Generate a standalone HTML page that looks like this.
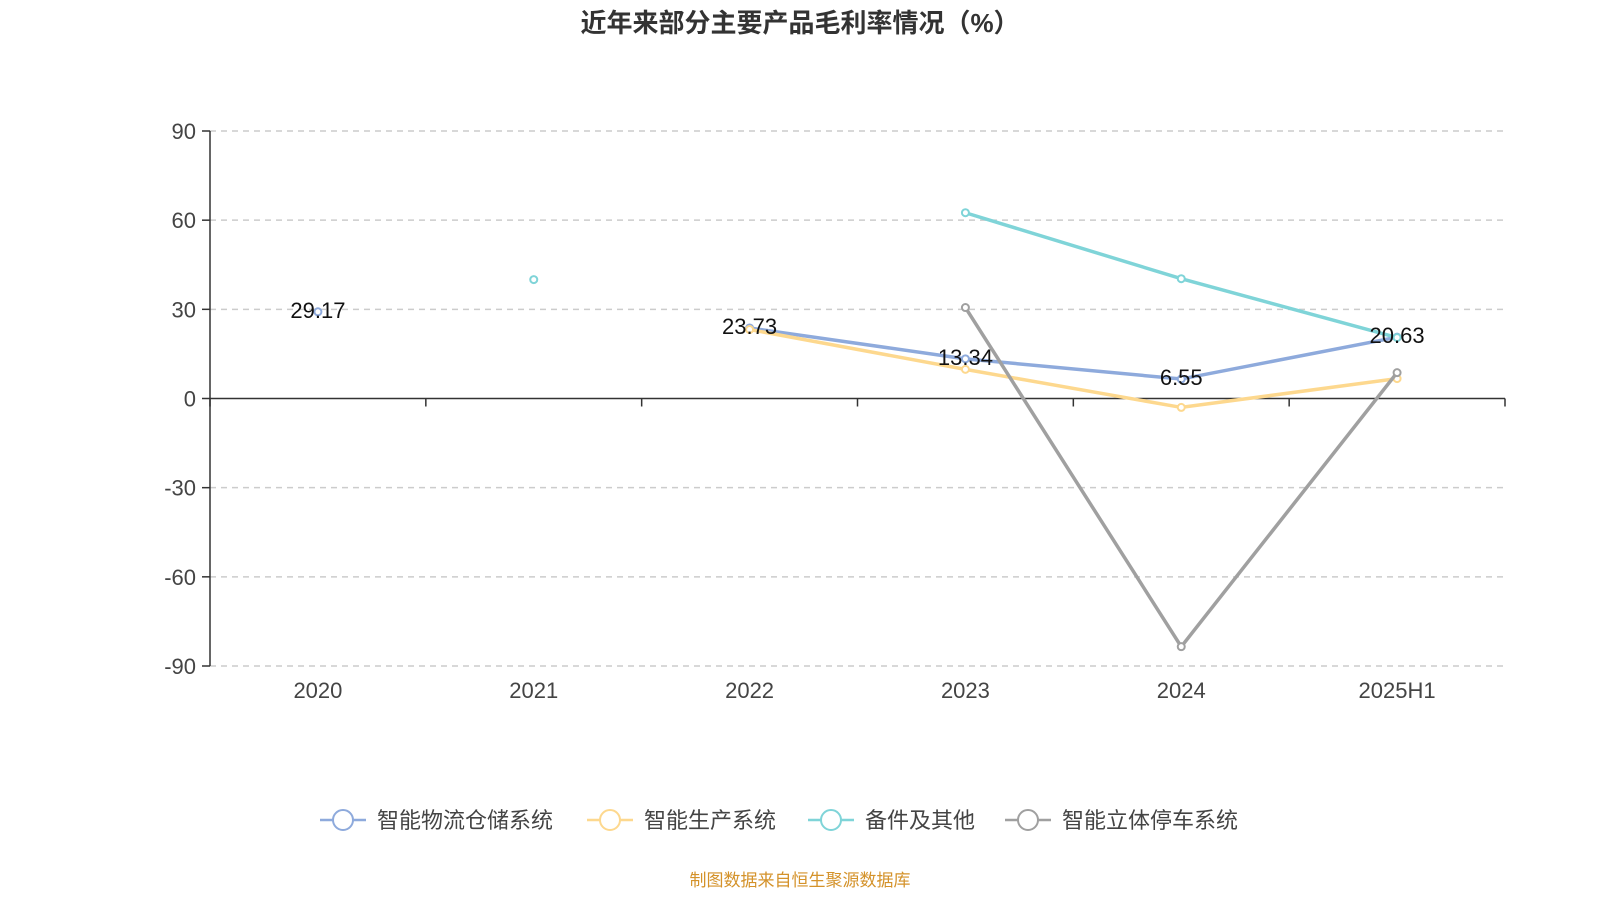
<!DOCTYPE html>
<html><head><meta charset="utf-8"><style>
body{margin:0;background:#fff;}
svg{display:block;font-family:"Liberation Sans","Noto Sans CJK SC",sans-serif;}
</style></head><body>
<svg id="c" width="1600" height="900">
<text x="800" y="32" text-anchor="middle" font-size="26" font-weight="bold" fill="#333">近年来部分主要产品毛利率情况（%）</text>
<g id="grid"></g>
<g id="marks"></g>
<g id="legend"></g>
<text x="800" y="886" text-anchor="middle" font-size="17" fill="#d4922a">制图数据来自恒生聚源数据库</text>
</svg>
<script>
const categories=["2020","2021","2022","2023","2024","2025H1"];
const yTicks=[90,60,30,0,-30,-60,-90];
const seriesNames=["智能物流仓储系统","智能生产系统","备件及其他","智能立体停车系统"];
const logisticsValues=[29.17,null,23.73,13.34,6.55,20.63];
const productionValues=[null,null,23.2,9.8,-3,6.7];
const sparesValues=[null,40,null,62.5,40.3,20.5];
const parkingValues=[null,null,null,30.6,-83.5,8.7];
const labeledSeries=[true,false,false,false];
const colors=["#8eaadc","#fdd88e","#7fd4d8","#a0a0a0"];
const NS="http://www.w3.org/2000/svg";
const x0=210,x1=1505,y0=131,y1=666;
const band=(x1-x0)/categories.length;
const X=i=>x0+band*(i+0.5);
const Y=v=>y0+(90-v)/180*(y1-y0);
function mk(tag,attrs,parent){const e=document.createElementNS(NS,tag);for(const k in attrs)e.setAttribute(k,attrs[k]);parent.appendChild(e);return e;}
const grid=document.getElementById('grid');
yTicks.forEach(t=>{
  const y=Y(t);
  if(t!==0){const l=mk('line',{x1:x0,x2:x1,y1:y,y2:y,stroke:'#ccc','stroke-dasharray':'6,5','stroke-width':1.5},grid);
  
  }
  const tk=mk('line',{x1:x0-8,x2:x0,y1:y,y2:y,stroke:'#333','stroke-width':1.5},grid);
  
  
  const tx=mk('text',{x:x0-14,y:y+8,'text-anchor':'end','font-size':22,fill:'#444'},grid);
  tx.textContent=t;
  
  
});
const ya=mk('line',{x1:x0,x2:x0,y1:y0,y2:y1,stroke:'#333','stroke-width':1.5},grid);


const xa=mk('line',{x1:x0,x2:x1,y1:Y(0),y2:Y(0),stroke:'#333','stroke-width':1.5},grid);


for(let i=0;i<=categories.length;i++){
  const t=mk('line',{x1:x0+band*i,x2:x0+band*i,y1:Y(0),y2:Y(0)+8,stroke:'#333','stroke-width':1.5},grid);
  
  
}
categories.forEach((c,i)=>{
  const t=mk('text',{x:X(i),y:698,'text-anchor':'middle','font-size':22,fill:'#444'},grid);
  t.textContent=c;
  
  
});
const marks=document.getElementById('marks');
const allSeries=[logisticsValues,productionValues,sparesValues,parkingValues];
const labels=[];
allSeries.forEach((vals,s)=>{
  let seg=[];
  const segs=[];
  vals.forEach((v,i)=>{if(v===null){if(seg.length)segs.push(seg);seg=[];}else seg.push([X(i),Y(v)]);});
  if(seg.length)segs.push(seg);
  segs.forEach(sg=>{if(sg.length>1){
    const p=mk('polyline',{points:sg.map(q=>q.join(',')).join(' '),fill:'none',stroke:colors[s],'stroke-width':3.5},marks);
    
    }});
  vals.forEach((v,i)=>{if(v===null)return;
    const c=mk('circle',{cx:X(i),cy:Y(v),r:3.5,fill:'#fff',stroke:colors[s],'stroke-width':2},marks);
    
    
    if(labeledSeries[s])labels.push([X(i),Y(v),v]);
  });
});
labels.forEach(([x,y,v])=>{
  const t=mk('text',{x:x,y:y+6,'text-anchor':'middle','font-size':22,fill:'#111'},marks);
  t.textContent=v.toFixed(2).replace(/\.?0+$/,m=>m.startsWith('.')&&m.length>1?'':m);
  t.textContent=String(v);
  
  
});
const legend=document.getElementById('legend');
const lx=[320,587,808,1005];
seriesNames.forEach((n,s)=>{
  const g=mk('g',{},legend);
  
  
  mk('line',{x1:lx[s],x2:lx[s]+46,y1:820,y2:820,stroke:colors[s],'stroke-width':2.5},g);
  mk('circle',{cx:lx[s]+23,cy:820,r:10,fill:'#fff',stroke:colors[s],'stroke-width':2},g);
  const t=mk('text',{x:lx[s]+57,y:828,'font-size':22,fill:'#444'},g);
  t.textContent=n;
});
</script>
</body></html>
